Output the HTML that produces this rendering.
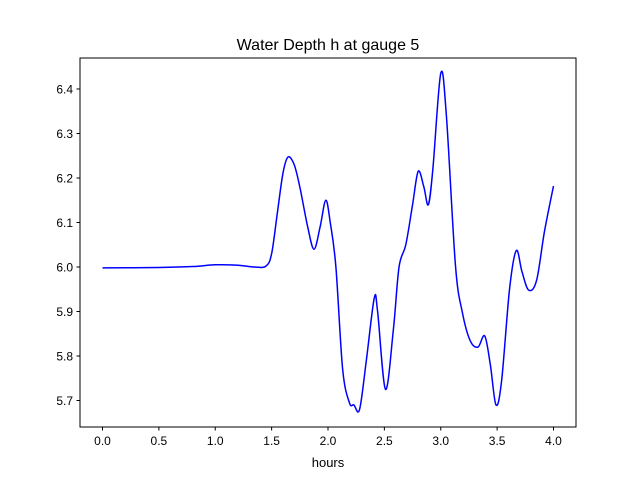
<!DOCTYPE html>
<html><head><meta charset="utf-8"><style>
body{margin:0;background:#fff;font-family:"Liberation Sans","DejaVu Sans",sans-serif}
</style></head><body>
<svg width="640" height="480" xmlns="http://www.w3.org/2000/svg">
<rect width="640" height="480" fill="#fff"/>
<text x="328" y="50" text-anchor="middle" font-size="16">Water Depth h at gauge 5</text>
<g id="plot"></g>
<rect x="80" y="58" width="496" height="369" fill="none" stroke="#000" stroke-width="1"/>
<text x="328" y="467" text-anchor="middle" font-size="13">hours</text>
</svg>
<script>
const hours=[0,0.5,0.8,1.0,1.2,1.35,1.45,1.5,1.55,1.6,1.645,1.7,1.75,1.82,1.876,1.93,1.98,2.02,2.07,2.13,2.19,2.23,2.28,2.34,2.41,2.44,2.51,2.58,2.63,2.69,2.75,2.8,2.85,2.89,2.93,3.0,3.05,3.13,3.19,3.26,3.33,3.39,3.44,3.49,3.54,3.61,3.67,3.72,3.78,3.85,3.92,4.0];
const depth=[5.998,5.999,6.001,6.005,6.004,6.0,6.002,6.03,6.12,6.21,6.247,6.23,6.18,6.09,6.04,6.09,6.15,6.1,6.0,5.77,5.695,5.69,5.68,5.79,5.93,5.9,5.725,5.86,6.0,6.05,6.14,6.215,6.18,6.14,6.22,6.435,6.34,6.005,5.9,5.835,5.82,5.845,5.78,5.69,5.745,5.95,6.037,5.99,5.948,5.97,6.08,6.182];
const xTicks=[0,0.5,1.0,1.5,2.0,2.5,3.0,3.5,4.0];
const yTicks=[5.7,5.8,5.9,6.0,6.1,6.2,6.3,6.4];
const NS="http://www.w3.org/2000/svg";
const sx=v=>102.5+v*112.75;
const sy=v=>267-(v-6.0)*445;
const g=document.getElementById('plot');
function mk(t,a){const e=document.createElementNS(NS,t);for(const k in a)e.setAttribute(k,a[k]);return e;}
xTicks.forEach(t=>{
 const l=mk('line',{x1:sx(t),x2:sx(t),y1:427,y2:430.5,stroke:'#000'});
 
 
 g.appendChild(l);
 const tx=mk('text',{x:sx(t),y:445,'text-anchor':'middle','font-size':'12'});
 
 
 tx.textContent=t.toFixed(1);g.appendChild(tx);
});
yTicks.forEach(t=>{
 const l=mk('line',{x1:76.5,x2:80,y1:sy(t),y2:sy(t),stroke:'#000'});
 
 
 g.appendChild(l);
 const tx=mk('text',{x:73,y:sy(t)+4.5,'text-anchor':'end','font-size':'12'});
 
 
 tx.textContent=t.toFixed(1);g.appendChild(tx);
});
const P=hours.map((h,i)=>[sx(h),sy(depth[i])]);
let d='M'+P[0][0]+','+P[0][1];
for(let i=0;i<P.length-1;i++){
 const p0=P[i-1]||P[i],p1=P[i],p2=P[i+1],p3=P[i+2]||P[i+1];
 const c1=[p1[0]+(p2[0]-p0[0])/6,p1[1]+(p2[1]-p0[1])/6];
 const c2=[p2[0]-(p3[0]-p1[0])/6,p2[1]-(p3[1]-p1[1])/6];
 d+=' C'+c1+' '+c2+' '+p2;
}
const path=mk('path',{d:d,fill:'none',stroke:'#0000ff','stroke-width':'1.5'});


g.appendChild(path);
</script>
</body></html>
